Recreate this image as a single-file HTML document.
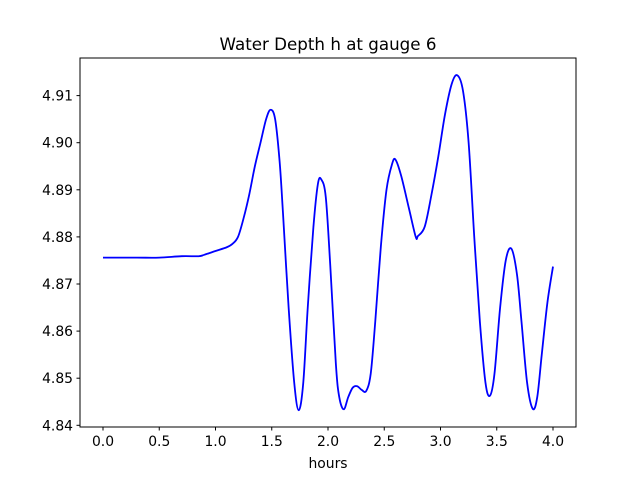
<!DOCTYPE html>
<html><head><meta charset="utf-8"><style>
body{margin:0;background:#fff;}
svg text{font-family:"DejaVu Sans","Liberation Sans",sans-serif;}
</style></head><body>
<svg id="chart" width="640" height="480" xmlns="http://www.w3.org/2000/svg">
<rect width="640" height="480" fill="#fff"/>
<text x="328" y="50" font-size="16.7" text-anchor="middle">Water Depth h at gauge 6</text>
<text x="328" y="468" font-size="13.9" text-anchor="middle">hours</text>
<g id="ticks"></g>
<path id="line" fill="none" stroke="#0000ff" stroke-width="1.8" stroke-linejoin="round"/>
<rect x="80" y="58" width="496" height="369" fill="none" stroke="#000" stroke-width="1"/>
</svg>
<script>
const hours=[0,0.3,0.5,0.7,0.85,0.9,1.0,1.1,1.15,1.2,1.25,1.3,1.35,1.4,1.45,1.49,1.53,1.57,1.6,1.65,1.7,1.74,1.78,1.82,1.87,1.91,1.94,1.98,2.02,2.07,2.1,2.14,2.18,2.22,2.26,2.3,2.34,2.38,2.42,2.47,2.52,2.57,2.6,2.65,2.72,2.78,2.8,2.86,2.92,2.98,3.04,3.1,3.15,3.2,3.25,3.3,3.35,3.4,3.44,3.48,3.53,3.58,3.63,3.68,3.72,3.77,3.82,3.86,3.9,3.95,4.0];
const depth=[4.8756,4.8756,4.8756,4.8759,4.8759,4.8762,4.8770,4.8778,4.8785,4.880,4.884,4.889,4.895,4.900,4.905,4.907,4.905,4.896,4.885,4.865,4.849,4.8432,4.849,4.865,4.882,4.8912,4.8922,4.8885,4.874,4.853,4.846,4.8434,4.846,4.848,4.8483,4.8475,4.8473,4.851,4.862,4.878,4.890,4.8955,4.8964,4.893,4.886,4.880,4.8802,4.8822,4.889,4.897,4.906,4.9125,4.9143,4.911,4.900,4.880,4.862,4.849,4.8463,4.851,4.865,4.875,4.8775,4.872,4.862,4.849,4.8435,4.846,4.855,4.866,4.8737];
const xTicks=[0,0.5,1,1.5,2,2.5,3,3.5,4];
const xTickLabels=["0.0","0.5","1.0","1.5","2.0","2.5","3.0","3.5","4.0"];
const yTicks=[4.84,4.85,4.86,4.87,4.88,4.89,4.90,4.91];
const yTickLabels=["4.84","4.85","4.86","4.87","4.88","4.89","4.90","4.91"];
const X=t=>103+t*112.5;
const Y=v=>425.3-(v-4.84)*4710;
const NS="http://www.w3.org/2000/svg";
const g=document.getElementById('ticks');
function mk(tag,attrs){const e=document.createElementNS(NS,tag);for(const k in attrs)e.setAttribute(k,attrs[k]);g.appendChild(e);return e;}
xTicks.forEach((t,i)=>{
 const l=mk('line',{x1:X(t),x2:X(t),y1:427,y2:430.5,stroke:'#000'});
 
 
 const tx=mk('text',{x:X(t),y:446,'font-size':13.9,'text-anchor':'middle'});
 tx.textContent=xTickLabels[i];
 
 
});
yTicks.forEach((v,i)=>{
 const l=mk('line',{x1:76.5,x2:80,y1:Y(v),y2:Y(v),stroke:'#000'});
 
 
 const tx=mk('text',{x:73,y:Y(v)+5,'font-size':13.9,'text-anchor':'end'});
 tx.textContent=yTickLabels[i];
 
 
});
const P=hours.map((t,i)=>[X(t),Y(depth[i])]);
let d=`M${P[0][0]},${P[0][1]}`;
for(let i=0;i<P.length-1;i++){
 const p0=P[Math.max(0,i-1)],p1=P[i],p2=P[i+1],p3=P[Math.min(P.length-1,i+2)];
 const c1=[p1[0]+(p2[0]-p0[0])/6,p1[1]+(p2[1]-p0[1])/6];
 const c2=[p2[0]-(p3[0]-p1[0])/6,p2[1]-(p3[1]-p1[1])/6];
 d+=` C${c1[0]},${c1[1]} ${c2[0]},${c2[1]} ${p2[0]},${p2[1]}`;
}
document.getElementById('line').setAttribute('d',d);
</script>
</body></html>
